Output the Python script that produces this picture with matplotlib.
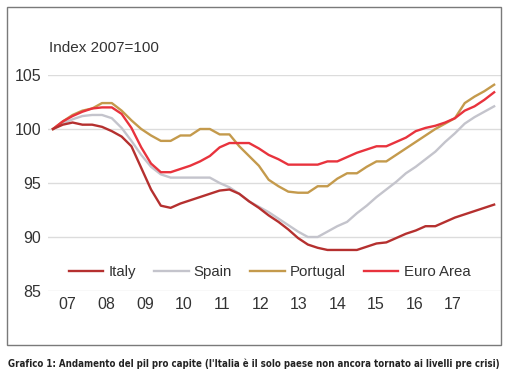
import matplotlib
matplotlib.use("Agg")
import matplotlib.pyplot as plt
from matplotlib.patches import Rectangle

# Quarterly data, 2007Q1 - 2018Q2 (index 2007=100)
italy = [100.0, 100.4, 100.6, 100.4, 100.4, 100.2, 99.8, 99.3, 98.4, 96.4,
         94.4, 92.9, 92.7, 93.1, 93.4, 93.7, 94.0, 94.3, 94.4, 94.0,
         93.3, 92.7, 92.0, 91.4, 90.7, 89.9, 89.3, 89.0, 88.8, 88.8,
         88.8, 88.8, 89.1, 89.4, 89.5, 89.9, 90.3, 90.6, 91.0, 91.0,
         91.4, 91.8, 92.1, 92.4, 92.7, 93.0]
spain = [100.0, 100.5, 100.9, 101.2, 101.3, 101.3, 101.0, 100.1, 98.9, 97.6,
         96.5, 95.8, 95.5, 95.5, 95.5, 95.5, 95.5, 95.0, 94.6, 94.0,
         93.3, 92.8, 92.3, 91.7, 91.1, 90.5, 90.0, 90.0, 90.5, 91.0,
         91.4, 92.2, 92.9, 93.7, 94.4, 95.1, 95.9, 96.5, 97.2, 97.9,
         98.8, 99.6, 100.5, 101.1, 101.6, 102.1]
portugal = [100.0, 100.7, 101.3, 101.7, 101.9, 102.4, 102.4, 101.7, 100.8, 100.0,
            99.4, 98.9, 98.9, 99.4, 99.4, 100.0, 100.0, 99.5, 99.5, 98.4,
            97.5, 96.6, 95.3, 94.7, 94.2, 94.1, 94.1, 94.7, 94.7, 95.4,
            95.9, 95.9, 96.5, 97.0, 97.0, 97.6, 98.2, 98.8, 99.4, 100.0,
            100.5, 101.0, 102.4, 103.0, 103.5, 104.1]
euro_area = [100.0, 100.7, 101.2, 101.6, 101.9, 102.0, 102.0, 101.4, 100.1, 98.3,
             96.8, 96.0, 96.0, 96.3, 96.6, 97.0, 97.5, 98.3, 98.7, 98.7,
             98.7, 98.2, 97.6, 97.2, 96.7, 96.7, 96.7, 96.7, 97.0, 97.0,
             97.4, 97.8, 98.1, 98.4, 98.4, 98.8, 99.2, 99.8, 100.1, 100.3,
             100.6, 101.0, 101.7, 102.1, 102.7, 103.4]
year_labels = ["07", "08", "09", "10", "11", "12", "13", "14", "15", "16", "17"]
y_ticks = [85, 90, 95, 100, 105]

series_names = ["Italy", "Spain", "Portugal", "Euro Area"]
series_colors = ["#b5302f", "#c4c4cc", "#c49a4c", "#e8333d"]
series_data = [italy, spain, portugal, euro_area]

plt.rcParams['font.family'] = ['Liberation Sans', 'DejaVu Sans']

W, H = 512, 386
fig = plt.figure(figsize=(W / 100, H / 100), dpi=100)

# outer frame
fig.patches.append(Rectangle((7 / W, 1 - 345 / H), (501 - 7) / W, (345 - 7) / H,
                             transform=fig.transFigure, fill=False,
                             edgecolor="#7a7a7a", linewidth=1.0))

ax = fig.add_axes([48 / W, 1 - 291 / H, (501 - 48) / W, (291 - 75) / H])
ax.set_ylim(85, 105)
ax.set_xlim(-0.51, 45.7)
ax.set_yticks(y_ticks)
ax.set_yticklabels([str(v) for v in y_ticks], fontsize=11.5, color="#333333")
ax.set_xticks([1.5 + 3.93 * k for k in range(len(year_labels))])
ax.set_xticklabels(year_labels, fontsize=11.5, color="#333333")
ax.tick_params(axis='both', length=0)
ax.tick_params(axis='y', pad=5)
ax.tick_params(axis='x', pad=4)
for s in ax.spines.values():
    s.set_visible(False)
ax.grid(axis='y', color="#dcdcdc", linewidth=1.0)
ax.set_axisbelow(True)

x = list(range(len(italy)))
order = [1, 2, 3, 0]
lines = {}
for idx in order:
    ln, = ax.plot(x, series_data[idx], color=series_colors[idx], linewidth=1.7,
                  label=series_names[idx], solid_joinstyle='round')
    lines[idx] = ln

leg = ax.legend([lines[i] for i in range(4)], series_names, ncol=4,
                loc='center', bbox_to_anchor=((269.5 - 48) / 453, (291 - 272) / 216),
                frameon=False, fontsize=10.8, handlelength=2.3, handletextpad=0.35,
                columnspacing=1.2, borderpad=0)
for t in leg.get_texts():
    t.set_color("#333333")

fig.text(49 / W, 1 - 48 / H, "Index 2007=100", fontsize=11, color="#333333",
         ha='left', va='center')

cap = fig.text(8 / W, 1 - 364 / H,
               "Grafico 1: Andamento del pil pro capite (l'Italia è il solo paese non ancora tornato ai livelli pre crisi)",
               fontsize=9, fontweight='bold', fontstretch='condensed', color="#222222",
               ha='left', va='center', family=['DejaVu Sans'])

# shrink caption to fit the reference width
fig.canvas.draw()
r = fig.canvas.get_renderer()
wpx = cap.get_window_extent(r).width
target = 492.0
if wpx > target:
    cap.set_fontsize(9 * target / wpx)

fig.savefig("out.png", dpi=100)
